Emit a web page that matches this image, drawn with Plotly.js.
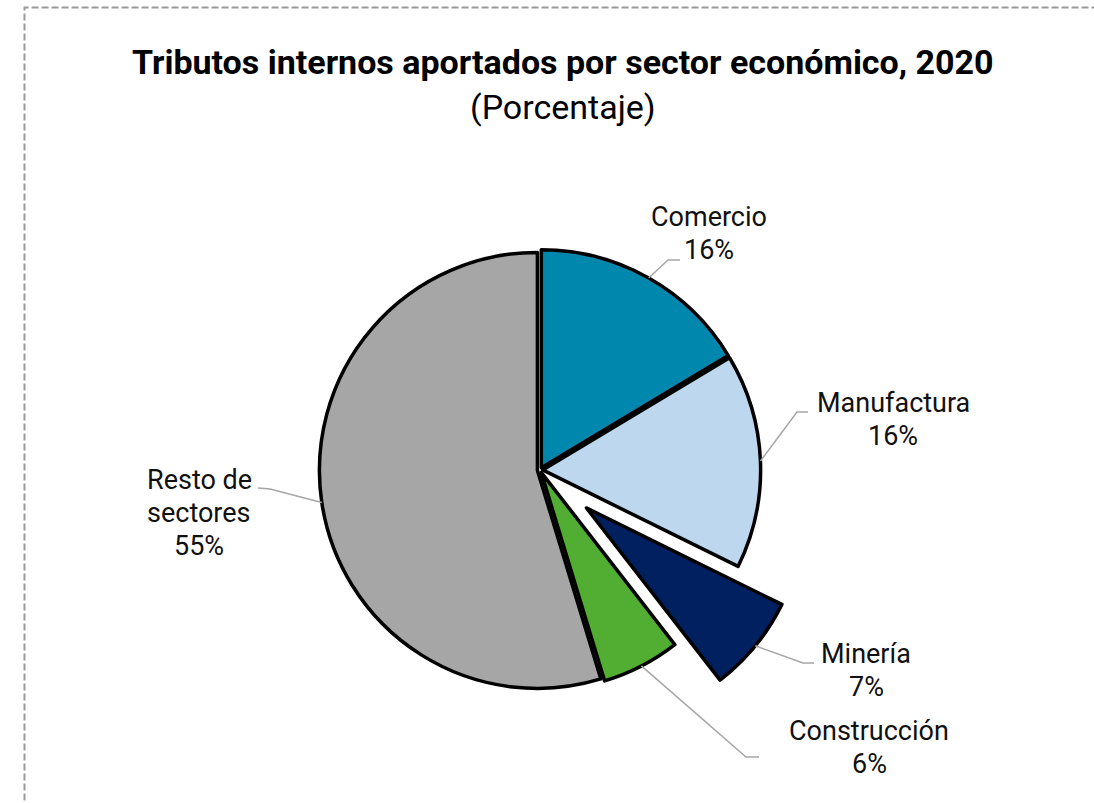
<!DOCTYPE html>
<html>
<head>
<meta charset="utf-8">
<script src="https://cdn.plot.ly/plotly-3.0.1.min.js"></script>
<style>
html,body{margin:0;padding:0;background:#fff;}
#chart{width:1094px;height:803px;}
</style>
</head>
<body>
<div id="chart"></div>
<script>
// ---- data ----
const sectors = ["Comercio", "Manufactura", "Minería", "Construcción", "Resto de sectores"];
const sectorLabelLines = [["Comercio"], ["Manufactura"], ["Minería"], ["Construcción"], ["Resto de", "sectores"]];
const shares = [16.4, 15.9, 7.2, 5.8, 54.7];
const colors = ["#0087AE", "#BDD7EE", "#002060", "#52AE32", "#A6A6A6"];
const pulls = [0.012, 0.012, 0.275, 0.012, 0.012];

// ---- layout config (pixels) ----
const W = 1094, H = 803;
const CX = 540, CY = 470, R = 218;
const LINE_GAP = 33;
// label first-line centers and leader elbows/ends
const labelPos = [[709, 217], [893, 403], [866, 654], [869, 731], [199, 480]];
const elbows = [[[668, 260], [680, 260]], [[797, 412], [808, 412]], [[803, 663], [814, 663]],
                [[746, 757], [759, 757]], [[270, 489], [258, 488]]];

const px = x => x / W;
const py = y => 1 - y / H;

const maxPull = Math.max(...pulls);
const half = R * (1 + maxPull);
const domain = {x: [px(CX - half), px(CX + half)], y: [py(CY + half), py(CY - half)]};

const total = shares.reduce((a, b) => a + b, 0);

const trace = {
  type: 'pie',
  labels: sectors,
  values: shares,
  sort: false,
  direction: 'clockwise',
  rotation: 0,
  pull: pulls,
  marker: {colors: colors, line: {color: '#000000', width: 3.5}},
  textinfo: 'none',
  hoverinfo: 'label+percent',
  domain: domain,
  showlegend: false
};

const labelFont = {family: 'Roboto, Arial, sans-serif', size: 27, color: '#111111'};
const annotations = [];
const shapes = [];
let cum = 0;
shares.forEach((v, i) => {
  const mid = (cum + v / 2) / total * 2 * Math.PI;
  cum += v;
  const r = R * (1 + pulls[i]);
  const ax = CX + r * Math.sin(mid);
  const ay = CY - r * Math.cos(mid);
  const pct = Math.round(v / total * 100);
  const lines = sectorLabelLines[i].concat([pct + '%']);
  lines.forEach((t, k) => {
    annotations.push({
      xref: 'paper', yref: 'paper', x: px(labelPos[i][0]), y: py(labelPos[i][1] + k * LINE_GAP),
      xanchor: 'center', yanchor: 'middle', showarrow: false, align: 'center',
      text: t, font: labelFont
    });
  });
  const e = elbows[i];
  shapes.push({
    type: 'path', xref: 'paper', yref: 'paper',
    path: `M ${px(ax)} ${py(ay)} L ${px(e[0][0])} ${py(e[0][1])} L ${px(e[1][0])} ${py(e[1][1])}`,
    line: {color: '#A6A6A6', width: 1.5}
  });
});

// title
annotations.push({
  xref: 'paper', yref: 'paper', x: px(563), y: py(62), xanchor: 'center', yanchor: 'middle',
  showarrow: false, text: '<b>Tributos internos aportados por sector económico, 2020</b>',
  font: {family: 'Roboto, Arial, sans-serif', size: 34, color: '#000000'}
});
annotations.push({
  xref: 'paper', yref: 'paper', x: px(563), y: py(107), xanchor: 'center', yanchor: 'middle',
  showarrow: false, text: '(Porcentaje)',
  font: {family: 'Roboto, Arial, sans-serif', size: 34, color: '#000000'}
});

// dashed frame
shapes.push({
  type: 'rect', xref: 'paper', yref: 'paper',
  x0: px(24.5), x1: 1.05, y0: -0.05, y1: py(7.5),
  line: {color: '#9A9A9A', width: 2, dash: '7px,3px'}
});

const layout = {
  width: W, height: H,
  margin: {l: 0, r: 0, t: 0, b: 0},
  paper_bgcolor: '#ffffff',
  plot_bgcolor: '#ffffff',
  annotations: annotations,
  shapes: shapes
};

Plotly.newPlot('chart', [trace], layout, {displayModeBar: false, staticPlot: true});
</script>
</body>
</html>
